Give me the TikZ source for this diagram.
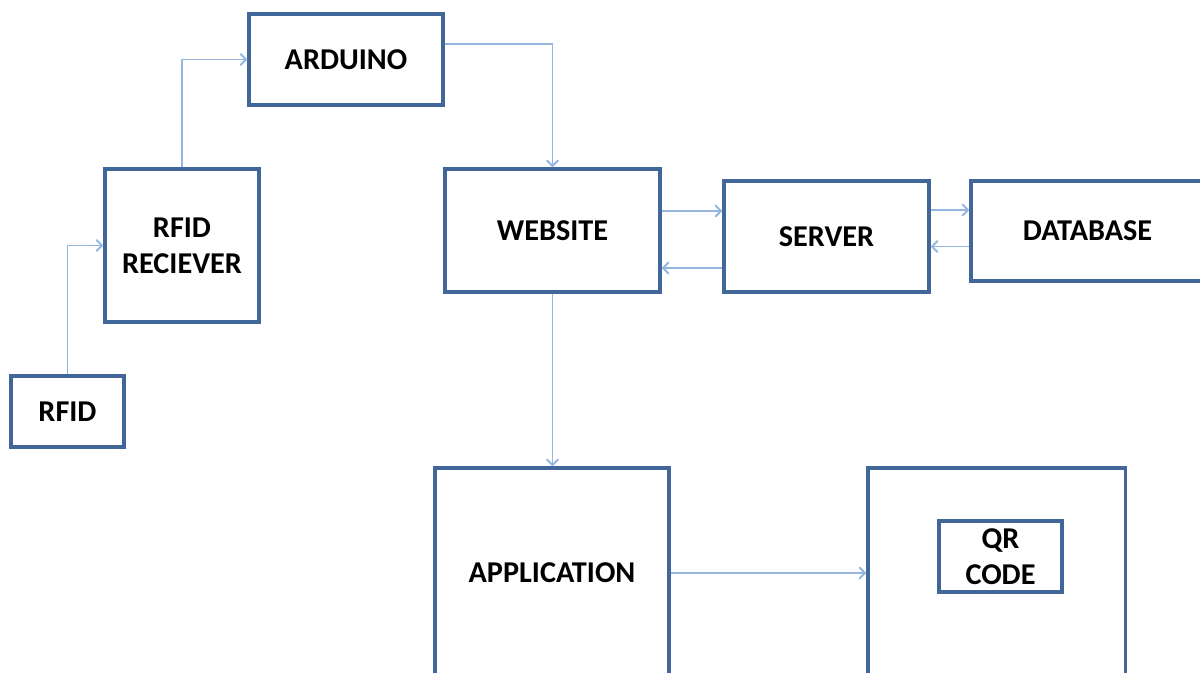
\documentclass[tikz,border=0pt]{standalone}
\usepackage{fontspec}
\setmainfont{Carlito}
\usepackage{xcolor}
\usepackage{tikz}
\usetikzlibrary{arrows}

\definecolor{boxblue}{HTML}{41669A}
\definecolor{lineblue}{HTML}{95B6DE}

\begin{document}
\begin{tikzpicture}[x=0.025cm,y=-0.025cm,
		box/.style={draw=boxblue,line width=2.2pt,fill=white,align=center,inner sep=0pt,
			font=\fontsize{21.5}{25.6}\selectfont\bfseries},
		link/.style={draw=lineblue,line width=1.4pt,->,>=angle 90}]
		\path[use as bounding box,clip] (0,0) rectangle (1200,672);
		%
		\node[box,minimum width=2.825cm,minimum height=1.775cm] (rfid) at (67.5,411.5) {RFID};
		\node[box,minimum width=3.85cm,minimum height=3.825cm] (recv) at (182,245.5) {RFID\\RECIEVER};
		\node[box,minimum width=4.85cm,minimum height=2.275cm] (ard) at (346,59.5) {ARDUINO};
		\node[box,minimum width=5.375cm,minimum height=3.075cm] (web) at (552.5,230.5) {WEBSITE};
		\node[box,minimum width=5.125cm,minimum height=2.775cm] (srv) at (826.5,236.5) {SERVER};
		\node[box,minimum width=5.825cm,minimum height=2.5cm] (db) at (1087.5,231) {DATABASE};
		\node[box,minimum width=5.85cm,minimum height=5.25cm] (app) at (552,573) {APPLICATION};
		\node[box,minimum width=6.425cm,minimum height=5.25cm] (qr) at (996.5,573) {};
		\node[box,minimum width=3.075cm,minimum height=1.775cm] (code) at (1000.5,556.5) {QR\\CODE};
		%
		% elbow arrows
		\draw[link] (rfid.north) |- (recv.west);
		\draw[link] (recv.north) |- (ard.west);
		\draw[link] ([yshift=0.39cm]ard.east) -| (web.north);
		% horizontal arrows
		\draw[link] ([yshift=0.4875cm]web.east) -- ([yshift=0.4875cm]web.east -| srv.west);
		\draw[link] ([yshift=-0.7875cm]srv.west) -- ([yshift=-0.7875cm]srv.west -| web.east);
		\draw[link] ([yshift=0.6625cm]srv.east) -- ([yshift=0.6625cm]srv.east -| db.west);
		\draw[link] ([yshift=-0.3875cm]db.west) -- ([yshift=-0.3875cm]db.west -| srv.east);
		\draw[link] (app.east) -- (qr.west);
		% vertical arrow
		\draw[link] (web.south) -- (web.south |- app.north);
\end{tikzpicture}
\end{document}
